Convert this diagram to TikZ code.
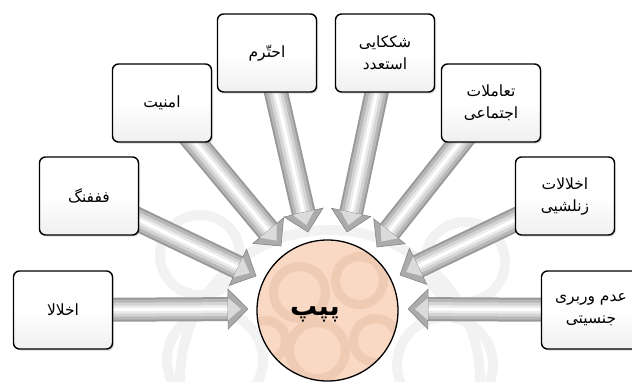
\documentclass[tikz,border=0pt]{standalone}
\usepackage{fontspec}
\newfontfamily\arabicfont[Script=Arabic]{DejaVu Sans}
\TeXXeTstate=1
\usetikzlibrary{calc,shadows,backgrounds}
\definecolor{peach}{RGB}{249,216,196}
\definecolor{tanblob}{RGB}{238,203,178}
\definecolor{wmark}{RGB}{242,242,242}
\newcommand\blockarrow[2]{%
  \coordinate (hb) at ($(#2)!20pt!(#1.center)$);
  \coordinate (hl) at ($(hb)!20pt!90:(#2)$);
  \coordinate (hr) at ($(hb)!20pt!-90:(#2)$);
  \coordinate (il) at ($(hb)!11pt!90:(#2)$);
  \coordinate (ir) at ($(hb)!11pt!-90:(#2)$);
  \coordinate (it) at ($(#2)!7pt!(hb)$);
  \draw[line width=24pt, color=black!40] (#1.center) -- (hb);
  \draw[line width=20pt, color=black!28] (#1.center) -- (hb);
  \draw[line width=14pt, color=black!17] (#1.center) -- (hb);
  \draw[line width=8pt, color=black!8] (#1.center) -- (hb);
  \draw[line width=3pt, color=white] (#1.center) -- (hb);
  \filldraw[fill=black!33, draw=black!48, line width=0.6pt, line join=miter] (hl) -- (#2) -- (hr) -- cycle;
  \fill[black!14] (il) -- (it) -- (ir) -- cycle;
}
\tikzset{
  box/.style={draw=black, line width=1.4pt, rounded corners=6pt,
    minimum width=99pt, minimum height=78pt, top color=white, bottom color=black!6,
    middle color=white, drop shadow={shadow xshift=1.5pt, shadow yshift=-1.5pt, opacity=0.3},
    align=center, inner xsep=2pt, font=\arabicfont\fontsize{15.5}{22}\selectfont},
  hub/.style={circle, draw=black, line width=1.3pt, minimum size=141pt, fill=peach}
}
\begin{document}
\begin{tikzpicture}[x=1pt,y=-1pt]
\useasboundingbox (0,0) rectangle (632,381);
% boxes
\node[box] (b1) at (63,310) {\beginR اخلالا\endR};
\node[box] (b2) at (89,196) {\beginR فففنگ\endR};
\node[box] (b3) at (162,103) {\beginR امنیت\endR};
\node[box] (b4) at (267,53) {\beginR احتّرم\endR};
\node[box] (b5) at (385,53) {\beginR شککایی\endR\\\beginR استعدد\endR};
\node[box] (b6) at (491,103) {\beginR تعاملات\endR\\\beginR اجتماعی\endR};
\node[box] (b7) at (565,196) {\beginR اخلالات\endR\\\beginR زنلشیی\endR};
\node[box] (b8) at (591,310) {\beginR عدم وربری\endR\\\beginR جنسیتی\endR};
% hub
\node[hub, path picture={
    \begin{scope}[line width=9pt, tanblob]
      \draw ($(path picture bounding box.center)+(-28,-18)$) circle[radius=26];
      \draw ($(path picture bounding box.center)+(32,-30)$) circle[radius=24];
      \draw ($(path picture bounding box.center)+(-10,40)$) circle[radius=28];
      \draw ($(path picture bounding box.center)+(48,30)$) circle[radius=22];
      \draw ($(path picture bounding box.center)+(-62,30)$) circle[radius=20];
    \end{scope}}] (c) at (327.5,310.5) {};
\node[font=\arabicfont\bfseries\fontsize{27}{29}\selectfont, inner sep=0pt] (ct) at (315,314) {\beginR پپپ\endR};
% tip coordinates
\coordinate (t1) at (248,309);
\coordinate (t2) at (256,276);
\coordinate (t3) at (281,246);
\coordinate (t4) at (308,232);
\coordinate (t5) at (347,232);
\coordinate (t6) at (377,247);
\coordinate (t7) at (400,275);
\coordinate (t8) at (408,309);
\begin{pgfonlayer}{background}
  \fill[white] (0,0) rectangle (632,381);
  \begin{scope}[line width=10pt, wmark]
    \clip (0,0) rectangle (632,381);
    \draw (330,380) circle[radius=150];
    \draw (215,360) circle[radius=48];
    \draw (445,365) circle[radius=48];
    \draw (200,255) circle[radius=40];
    \draw (465,262) circle[radius=40];
  \end{scope}
  \blockarrow{b1}{t1}
  \blockarrow{b2}{t2}
  \blockarrow{b3}{t3}
  \blockarrow{b4}{t4}
  \blockarrow{b5}{t5}
  \blockarrow{b6}{t6}
  \blockarrow{b7}{t7}
  \blockarrow{b8}{t8}
\end{pgfonlayer}
\end{tikzpicture}
\end{document}
